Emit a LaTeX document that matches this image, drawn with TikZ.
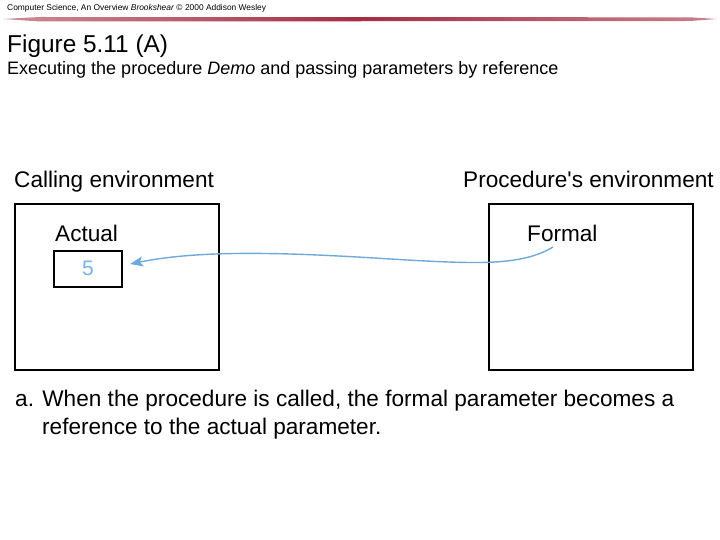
\documentclass[tikz,border=0pt]{standalone}
\usepackage{fontspec}
\setmainfont{Liberation Sans}[Ligatures=TeXOff]
\usetikzlibrary{arrows.meta}
\definecolor{arrowblue}{RGB}{110,170,220}
\definecolor{numblue}{RGB}{120,180,230}
\definecolor{hdrred}{RGB}{165,45,65}
\begin{document}
\begin{tikzpicture}[x=1pt,y=-1pt,
  lbl/.style={inner sep=0pt,anchor=base west},
  big/.style={font=\fontsize{22.6}{26}\selectfont},
  envbox/.style={draw=black,line width=1.8pt},
  cellbox/.style={draw=black,line width=1.7pt},
  refarrow/.style={draw=arrowblue,line width=1.4pt,-{Stealth[length=13pt,width=10pt,inset=3pt]}}]
\useasboundingbox[fill=white] (0,0) rectangle (720,540);
% header
\node[lbl,font=\fontsize{8.4}{9}\selectfont] (hdr) at (7,11) {Computer Science, An Overview \textit{Brookshear} © 2000  Addison Wesley};
\shade[left color=hdrred!55,right color=hdrred!60,middle color=hdrred]
  (3,19) -- (40,17) -- (690,17.3) -- (717,19) -- (690,21) -- (40,21.5) -- cycle;
% titles
\node[lbl,font=\fontsize{24.4}{28}\selectfont] (fig) at (7,53) {Figure 5.11 (A)};
\node[lbl,font=\fontsize{18}{21}\selectfont] (sub) at (7,75) {Executing the procedure \textit{Demo} and passing parameters by reference};
% environments
\node[lbl,big] (calltitle) at (14,188) {Calling environment};
\node[lbl,big] (proctitle) at (463,188) {Procedure's environment};
\node[envbox,minimum width=204pt,minimum height=166pt,anchor=north west] (callbox) at (14,203) {};
\node[envbox,minimum width=204pt,minimum height=166pt,anchor=north west] (procbox) at (488,203) {};
\node[lbl,big] (actual) at (55,241) {Actual};
\node[lbl,big] (formal) at (527,241) {Formal};
\node[cellbox,minimum width=68pt,minimum height=36pt,anchor=north west,
  font=\fontsize{21}{24}\selectfont,text=numblue] (cell) at (53,250) {5};
\coordinate (fstart) at (553,247);
\coordinate (ctip) at (130,264);
\draw[refarrow] (fstart) .. controls (535,258) and (510,263) .. (470,262.5)
  .. controls (420,262) and (360,256) .. (290,254)
  .. controls (220,252) and (175,255) .. (ctip);
% caption
\node[lbl,big] (cap1) at (15,406) {a. When the procedure is called, the formal parameter becomes a};
\node[lbl,big] (cap2) at (42,434) {reference to the actual parameter.};
\end{tikzpicture}
\end{document}
